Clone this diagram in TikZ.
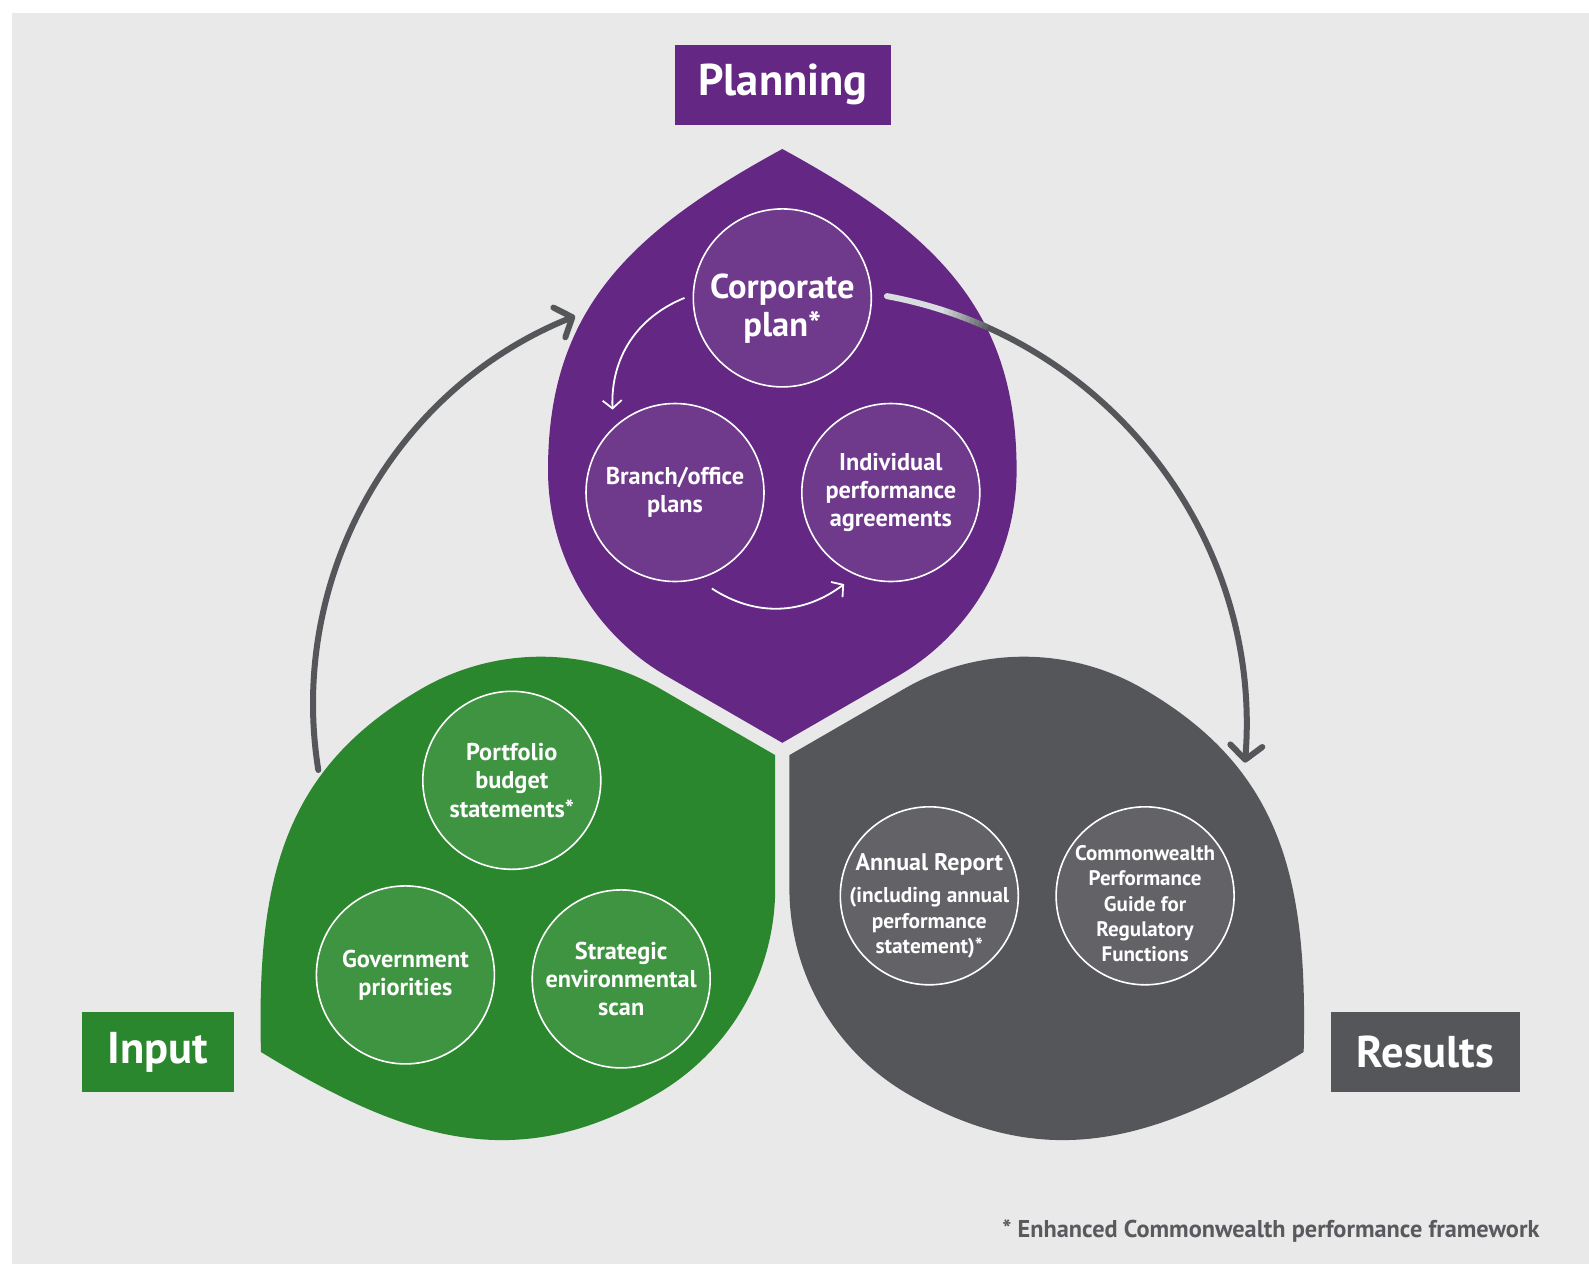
\documentclass[tikz,border=0pt]{standalone}
\usepackage{fontspec}
\setmainfont{PT Sans}
\usetikzlibrary{arrows.meta}
\definecolor{planpurple}{HTML}{642884}
\definecolor{planlight}{HTML}{6F3A8C}
\definecolor{inputgreen}{HTML}{2B872D}
\definecolor{inputlight}{HTML}{3F9442}
\definecolor{resultgrey}{HTML}{55565A}
\definecolor{resultlight}{HTML}{636267}
\definecolor{backgrey}{HTML}{E9E9E9}
\definecolor{arrowpale}{HTML}{D9DDE0}
\definecolor{notegrey}{HTML}{595A5E}
\tikzstyle{purple stage}=[
        circle,
        draw = white,
        line width = 1.6pt,
        fill = planlight,
        minimum size = 178pt,
        inner sep = 0pt,
        align = center,
        text = white,
        font = \fontsize{24.3}{28.3}\selectfont\bfseries
    ]
\tikzstyle{green stage}=[
        circle,
        draw = white,
        line width = 1.6pt,
        fill = inputlight,
        minimum size = 178pt,
        inner sep = 0pt,
        align = center,
        text = white,
        font = \fontsize{24.3}{28.3}\selectfont\bfseries
    ]
\tikzstyle{grey stage}=[
        circle,
        draw = white,
        line width = 1.6pt,
        fill = resultlight,
        minimum size = 178pt,
        inner sep = 0pt,
        align = center,
        text = white,
        font = \fontsize{21}{25.3}\selectfont\bfseries
    ]
\tikzstyle{stage text}=[
        align = center,
        text = white,
        inner sep = 0pt
    ]
\tikzstyle{label box}=[
        minimum height = 80pt,
        inner sep = 0pt,
        text = white,
        font = \fontsize{44.5}{52}\selectfont\bfseries
    ]
\tikzstyle{big arrow}=[
        draw = resultgrey,
        line width = 6pt,
        line cap = round,
        -{Straight Barb[length=14pt, width=32pt, line cap=round, line join=round]}
    ]
\tikzstyle{small arrow}=[
        draw = white,
        line width = 1.8pt,
        -{Straight Barb[length=8pt, width=19pt]}
    ]

\begin{document}
\begin{tikzpicture}[x=1pt, y=1pt, node distance=215.8pt]
        \useasboundingbox (0,0) rectangle (1589,-1264);
        \fill[white] (0,0) rectangle (1589,-1264);
        \fill[backgrey] (12,-13) rectangle (1589,-1264);

        % three leaves, one shape turned about the middle
        \coordinate (o) at (782.3,-751);
        \foreach \ang/\col in {0/planpurple, 120/inputgreen, -120/resultgrey}
            \fill[\col, rotate around={\ang:(o)}] (782.3,-149)
                .. controls (630,-232) and (548,-310) .. (548,-470)
                .. controls (548,-555.1) and (593.4,-633.7) .. (667.1,-676.3)
                -- (782.3,-742.8) -- (897.5,-676.3)
                .. controls (971.2,-633.7) and (1016.6,-555.1) .. (1016.6,-470)
                .. controls (1016.6,-310) and (934.6,-232) .. cycle;

        \node[label box, fill=planpurple, minimum width=216pt] (planning) at (783,-84.5) {Planning};
        \node[label box, fill=inputgreen, minimum width=152pt] (input) at (158,-1052) {Input};
        \node[label box, fill=resultgrey, minimum width=189pt] (results) at (1425.5,-1052) {Results};

        \node[purple stage, label={[stage text, yshift=-11pt, font=\fontsize{34.5}{38}\selectfont\bfseries]center:{Corporate\\plan*}}] (cp) at (782.3,-297.9) {};
        \node[purple stage] (bo) at (675,-492.5) {Branch/office\\plans};
        \node[purple stage] (ip) [right of = bo] {Individual\\performance\\agreements};

        \node[green stage] (pb) at (511.8,-780.3) {Portfolio\\budget\\statements*};
        \node[green stage] (gp) at (405.4,-974.9) {Government\\priorities};
        \node[green stage, yshift=-4pt] (se) [right of = gp] {Strategic\\environmental\\scan};

        \node[grey stage, label={[stage text, yshift=-10pt, font=\fontsize{21.4}{25.3}\selectfont\bfseries]center:{{\fontsize{24}{25.3}\selectfont Annual Report}\\[7pt]
            (including annual\\performance\\statement)*}}] (ar) at (929.3,-895.8) {};
        \node[grey stage, label={[stage text, yshift=-8pt, font=\fontsize{21}{25.3}\selectfont\bfseries]center:{Commonwealth\\Performance\\Guide for\\Regulatory\\Functions}}] (cw) [right of = ar] {};

        \draw[small arrow] ([xshift=-8pt]cp.west) to[bend right=35] ([shift={(127:14pt)}]bo.127);
        \draw[small arrow] ([shift={(-69:13pt)}]bo.-69) to[bend right=35] ([shift={(243:13pt)}]ip.243);

        \coordinate (instart) at (318.3,-770);
        \draw[big arrow] (instart) arc[start angle=189.1, end angle=111.9, radius=418pt];

        \coordinate (rc) at (807.8,-727.5);
        \draw[big arrow] (rc) ++(72:438.6pt) arc[start angle=72, end angle=-4.6, radius=438.6pt];
        \draw[draw=arrowpale, line width=6pt, line cap=round] (rc) ++(79.6:438.6pt) arc[start angle=79.6, end angle=72.5, radius=438.6pt];
        \foreach \i [evaluate=\i as \pct using int(100-\i*9), evaluate=\i as \a using 72.5-\i*0.6] in {0,...,10}
            \draw[draw=arrowpale!\pct!resultgrey, line width=6pt] (rc) ++(\a:438.6pt) arc[start angle=\a, end angle=\a-0.65, radius=438.6pt];

        \node[anchor=east, text=notegrey, font=\fontsize{24.3}{28}\selectfont\bfseries] (note) at (1543,-1231) {* Enhanced Commonwealth performance framework};

    \end{tikzpicture}
\end{document}
